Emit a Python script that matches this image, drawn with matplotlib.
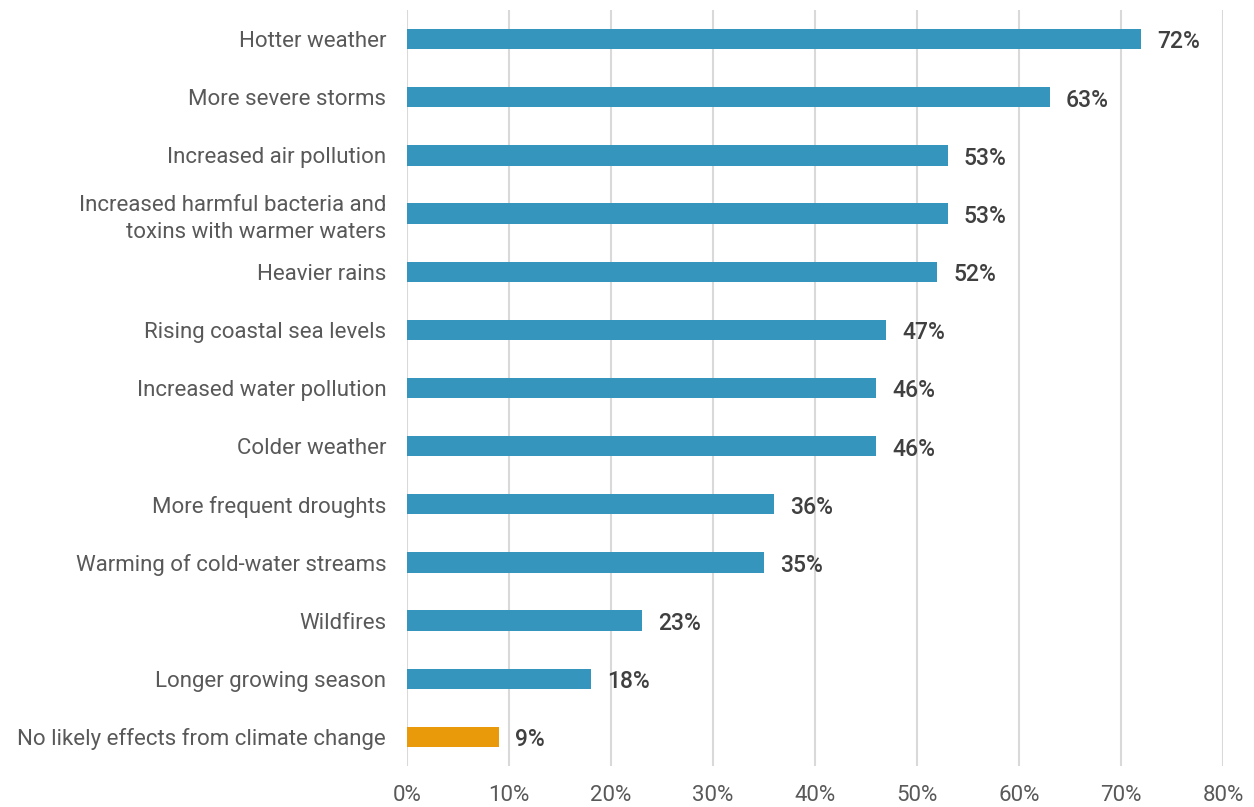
import matplotlib
matplotlib.use("Agg")
import matplotlib.pyplot as plt

categories = [
    "Hotter weather",
    "More severe storms",
    "Increased air pollution",
    "Increased harmful bacteria and\ntoxins with warmer waters",
    "Heavier rains",
    "Rising coastal sea levels",
    "Increased water pollution",
    "Colder weather",
    "More frequent droughts",
    "Warming of cold-water streams",
    "Wildfires",
    "Longer growing season",
    "No likely effects from climate change",
]
values = [72, 63, 53, 53, 52, 47, 46, 46, 36, 35, 23, 18, 9]
xticks = [0, 10, 20, 30, 40, 50, 60, 70, 80]

blue = "#3595BC"
orange = "#E89A0B"
colors = [blue] * (len(values) - 1) + [orange]

plt.rcParams["font.family"] = ["Roboto", "DejaVu Sans"]

fig = plt.figure(figsize=(12.54, 8.07), dpi=100)
ax = fig.add_axes([0.3246, 0.0508, 0.6507, 0.9368])

y = range(len(categories))
ax.barh(y, values, height=0.35, color=colors, zorder=3)

for i, v in enumerate(values):
    ax.text(v + 1.6, i + 0.05, f"{v}%", va="center", ha="left",
            fontsize=16.5, color="#404040", fontweight="medium")

ax.set_ylim(len(categories) - 0.5, -0.5)
ax.set_xlim(0, 80)
ax.set_xticks(xticks)
ax.set_xticklabels([f"{t}%" for t in xticks])
ax.set_yticks(list(y))
ax.set_yticklabels(categories, linespacing=1.4)

ax.grid(axis="x", color="#D9D9D9", linewidth=1.5, zorder=0)
for s in ["top", "right", "bottom", "left"]:
    ax.spines[s].set_visible(False)
ax.tick_params(axis="both", length=0, labelsize=16, labelcolor="#595959")
ax.tick_params(axis="y", pad=15)
ax.tick_params(axis="x", pad=14)

fig.savefig("out.png", dpi=100)
